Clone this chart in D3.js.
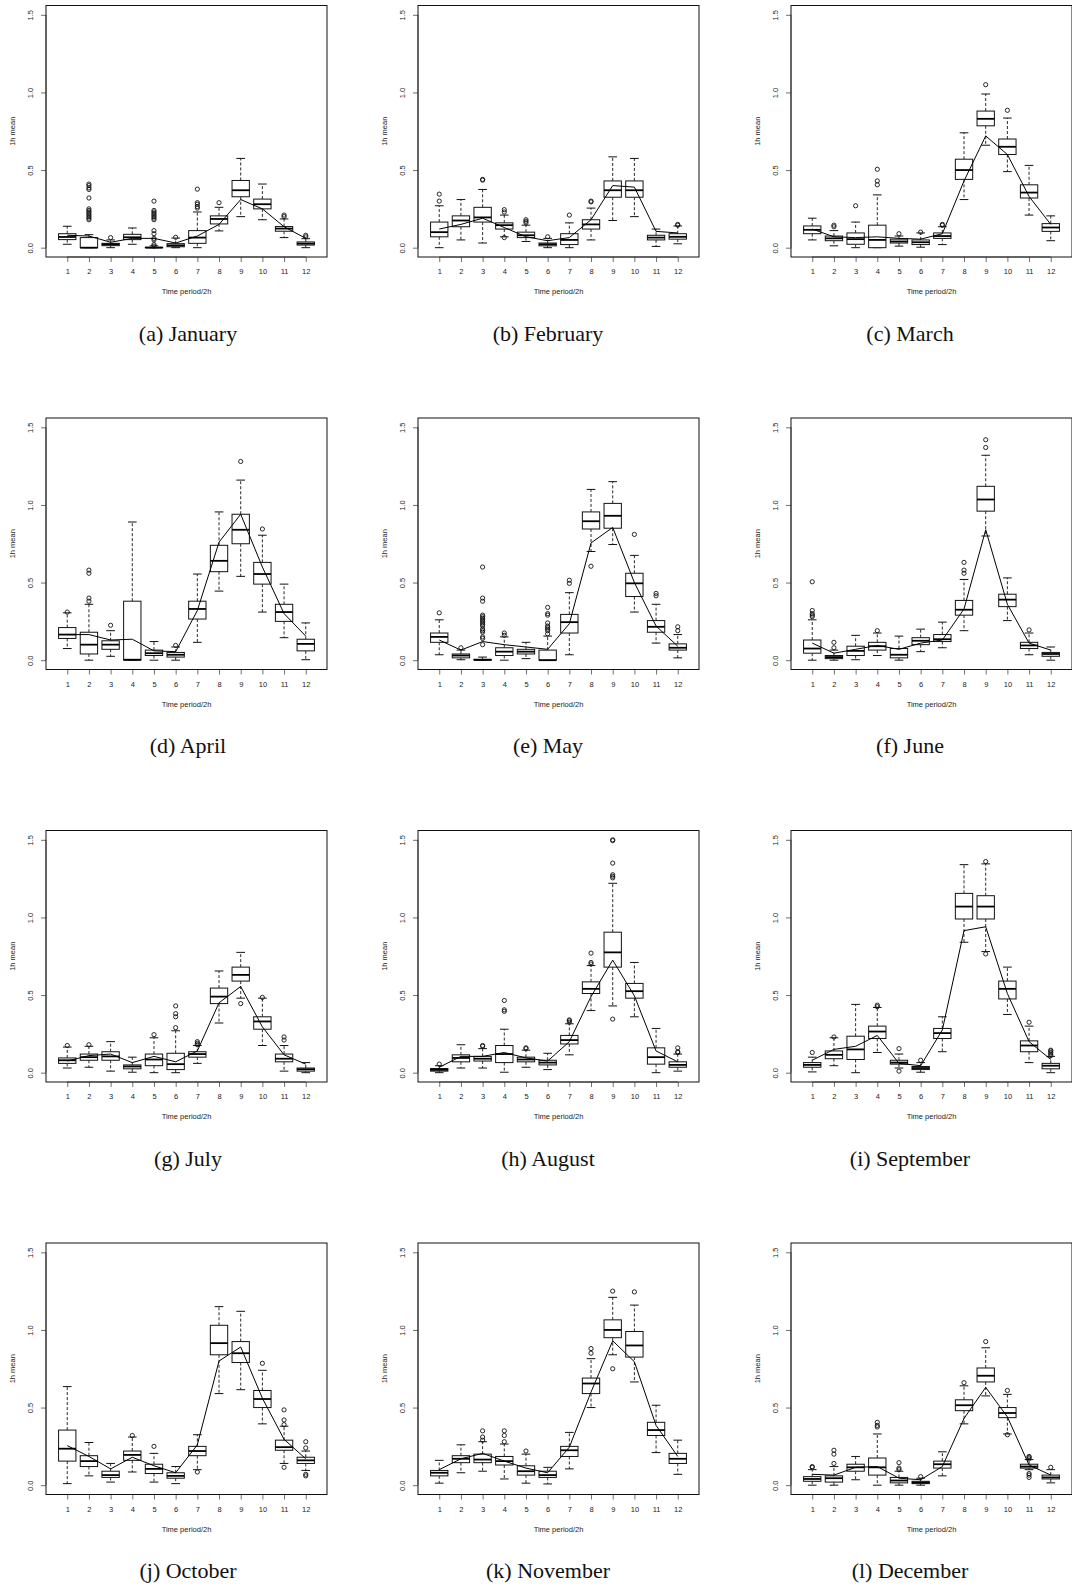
<!DOCTYPE html>
<html>
<head>
<meta charset="utf-8">
<script src="https://cdn.jsdelivr.net/npm/d3@7/dist/d3.min.js"></script>
<style>
  body { margin: 0; background: #fff; }
  svg { display: block; }
  .tick-label { font-family: "Liberation Sans", Arial, sans-serif; font-size: 7.5px; fill: #222; }
  .caption { font-family: "Liberation Serif", "Times New Roman", serif; font-size: 22px; fill: #111; }
</style>
</head>
<body>
<svg id="fig" width="1072" height="1592"></svg>
<script>
// ---- data -------------------------------------------------------------
const periods = [1, 2, 3, 4, 5, 6, 7, 8, 9, 10, 11, 12];
const yTicks = [0, 0.5, 1.0, 1.5];
const panelLetters = ["a", "b", "c", "d", "e", "f", "g", "h", "i", "j", "k", "l"];
const monthNames = ["January", "February", "March", "April", "May", "June",
                    "July", "August", "September", "October", "November", "December"];

// per period: [lower whisker, Q1, median, Q3, upper whisker]
const janBoxes = [[0.022,0.052,0.069,0.09,0.138],[0,0,0,0.065,0.084],[0,0.013,0.022,0.028,0.05],[0.022,0.052,0.067,0.086,0.127],
  [0,0,0,0.003,0.012],[0,0.006,0.015,0.026,0.062],[0,0.028,0.065,0.11,0.23],[0.108,0.153,0.185,0.205,0.26],
  [0.2,0.328,0.37,0.433,0.575],[0.18,0.25,0.28,0.313,0.41],[0.065,0.106,0.123,0.136,0.185],[0,0.017,0.026,0.037,0.058]];
const janOutliers = [[],[0.18,0.19,0.2,0.21,0.22,0.23,0.24,0.25,0.32,0.375,0.385,0.4,0.41],[0.065],[],
  [0.01,0.02,0.05,0.06,0.09,0.11,0.18,0.19,0.2,0.21,0.22,0.23,0.24,0.3],[0.067],[0.255,0.265,0.28,0.29,0.377],[0.29],
  [],[],[0.2,0.21],[0.07,0.08]];
const janLine = [0.08,0.075,0.035,0.06,0.06,0.03,0.075,0.15,0.31,0.25,0.135,0.06];

const febBoxes = [[0,0.07,0.1,0.165,0.27],[0.05,0.135,0.175,0.205,0.31],[0.03,0.165,0.195,0.26,0.375],[0.07,0.12,0.145,0.16,0.21],
  [0.04,0.065,0.08,0.1,0.145],[0,0.012,0.022,0.03,0.06],[0,0.02,0.05,0.09,0.16],[0.05,0.12,0.15,0.18,0.255],
  [0.175,0.325,0.37,0.43,0.585],[0.2,0.325,0.37,0.43,0.575],[0.008,0.05,0.065,0.08,0.12],[0.025,0.055,0.07,0.09,0.14]];
const febOutliers = [[0.3,0.345],[],[0.435,0.44],[0.065,0.23,0.245],[0.16,0.17,0.18],[0.07],[0.21],[0.295,0.3],[],[],[],[0.145,0.15]];
const febLine = [0.12,0.15,0.19,0.13,0.07,0.045,0.065,0.18,0.4,0.39,0.105,0.095];

const marBoxes = [[0.05,0.09,0.115,0.14,0.19],[0.012,0.045,0.06,0.075,0.11],[0,0.022,0.055,0.095,0.165],[0,0,0.05,0.145,0.34],
  [0.01,0.03,0.04,0.055,0.075],[0.003,0.02,0.035,0.05,0.095],[0.02,0.06,0.075,0.095,0.135],[0.31,0.44,0.5,0.57,0.74],
  [0.66,0.785,0.83,0.88,0.99],[0.49,0.6,0.65,0.7,0.835],[0.21,0.32,0.355,0.405,0.53],[0.045,0.105,0.13,0.155,0.205]];
const marOutliers = [[],[0.135,0.145],[0.27],[0.405,0.43,0.505],[0.09],[0.1],[0.145,0.15],[],[1.05],[0.885],[],[]];
const marLine = [0.12,0.07,0.065,0.07,0.06,0.055,0.09,0.43,0.72,0.6,0.33,0.15];

const aprBoxes = [[0.075,0.14,0.165,0.21,0.305],[0,0.04,0.1,0.18,0.36],[0.025,0.07,0.1,0.125,0.19],[0,0,0.003,0.38,0.89],
  [0,0.03,0.045,0.065,0.12],[0,0.02,0.035,0.05,0.085],[0.115,0.265,0.33,0.38,0.555],[0.445,0.57,0.64,0.74,0.955],
  [0.54,0.75,0.84,0.94,1.16],[0.31,0.49,0.555,0.63,0.805],[0.145,0.25,0.31,0.36,0.49],[0.003,0.06,0.105,0.135,0.24]];
const aprOutliers = [[0.31],[0.38,0.4,0.56,0.58],[0.225],[],[],[0.095],[],[],[1.28],[0.845],[],[]];
const aprLine = [0.165,0.165,0.13,0.135,0.06,0.055,0.32,0.76,0.94,0.6,0.3,0.155];

const mayBoxes = [[0.035,0.115,0.15,0.175,0.26],[0.003,0.015,0.03,0.04,0.065],[0,0,0.002,0.006,0.02],[0,0.03,0.055,0.08,0.15],
  [0.01,0.04,0.055,0.07,0.115],[0,0,0,0.065,0.155],[0.035,0.175,0.245,0.295,0.435],[0.7,0.845,0.895,0.955,1.1],
  [0.745,0.85,0.93,1.01,1.15],[0.31,0.41,0.495,0.56,0.675],[0.11,0.18,0.215,0.255,0.36],[0.015,0.065,0.08,0.105,0.165]];
const mayOutliers = [[0.305],[0.08],[0.1,0.14,0.15,0.18,0.19,0.2,0.22,0.23,0.24,0.25,0.26,0.27,0.28,0.29,0.38,0.4,0.6],[0.16,0.175],
  [],[0.17,0.19,0.2,0.21,0.22,0.24,0.29,0.3,0.34],[0.495,0.515],[0.605],[],[0.81],[0.415,0.43],[0.19,0.215]];
const mayLine = [0.13,0.065,0.12,0.1,0.085,0.07,0.235,0.755,0.855,0.5,0.22,0.09];

const junBoxes = [[0,0.045,0.075,0.13,0.26],[0,0.01,0.02,0.03,0.065],[0.003,0.03,0.06,0.09,0.16],[0.03,0.065,0.09,0.115,0.175],
  [0,0.015,0.035,0.075,0.155],[0.055,0.1,0.125,0.145,0.2],[0.08,0.12,0.135,0.165,0.245],[0.19,0.29,0.325,0.385,0.52],
  [0.8,0.96,1.035,1.12,1.32],[0.255,0.345,0.39,0.425,0.53],[0.035,0.075,0.095,0.115,0.175],[0,0.025,0.04,0.05,0.085]];
const junOutliers = [[0.28,0.29,0.3,0.32,0.505],[0.08,0.115],[],[0.19],[],[],[],[0.56,0.58,0.63],[1.37,1.42],[],[0.195],[]];
const junLine = [0.11,0.045,0.07,0.095,0.07,0.11,0.13,0.33,0.84,0.36,0.11,0.065];

const julBoxes = [[0.03,0.06,0.08,0.095,0.165],[0.035,0.08,0.1,0.12,0.17],[0.01,0.08,0.105,0.135,0.2],[0.003,0.025,0.04,0.05,0.1],
  [0,0.045,0.085,0.12,0.225],[0,0.02,0.055,0.125,0.27],[0.06,0.1,0.12,0.135,0.175],[0.32,0.445,0.49,0.545,0.655],
  [0.48,0.59,0.63,0.68,0.775],[0.175,0.28,0.33,0.36,0.48],[0.01,0.07,0.09,0.12,0.175],[0,0.01,0.022,0.03,0.065]];
const julOutliers = [[0.175],[0.18],[],[],[0.245],[0.29,0.36,0.38,0.43],[0.18,0.19,0.2],[],[0.445],[0.485],[0.21,0.23],[]];
const julLine = [0.075,0.11,0.12,0.065,0.105,0.07,0.14,0.45,0.555,0.295,0.115,0.055];

const augBoxes = [[0,0.01,0.018,0.027,0.045],[0.03,0.07,0.095,0.115,0.18],[0.03,0.075,0.09,0.105,0.155],[0.003,0.065,0.12,0.175,0.28],
  [0.035,0.07,0.085,0.1,0.145],[0.02,0.05,0.065,0.08,0.125],[0.115,0.185,0.21,0.24,0.315],[0.4,0.51,0.54,0.585,0.69],
  [0.43,0.68,0.775,0.905,1.22],[0.36,0.48,0.525,0.575,0.71],[0,0.055,0.1,0.16,0.285],[0.01,0.035,0.05,0.07,0.12]];
const augOutliers = [[0.055],[],[0.17,0.175],[0.395,0.405,0.465],[0.155,0.16],[],[0.325,0.335,0.34],[0.7,0.71,0.77],
  [0.345,1.255,1.265,1.275,1.35,1.495,1.5],[],[],[0.13,0.135,0.16]];
const augLine = [0.035,0.105,0.105,0.13,0.095,0.075,0.2,0.49,0.725,0.495,0.14,0.07];

const sepBoxes = [[0.005,0.035,0.05,0.065,0.1],[0.045,0.09,0.115,0.14,0.225],[0,0.085,0.15,0.235,0.44],[0.13,0.22,0.265,0.3,0.42],
  [0.03,0.055,0.065,0.08,0.12],[0.003,0.02,0.03,0.04,0.065],[0.135,0.22,0.255,0.285,0.36],[0.84,0.99,1.07,1.155,1.34],
  [0.78,0.99,1.07,1.14,1.345],[0.375,0.475,0.54,0.59,0.68],[0.065,0.135,0.175,0.205,0.3],[0,0.025,0.045,0.06,0.105]];
const sepOutliers = [[0.13],[0.23],[],[0.425,0.435],[0.01,0.155],[0.08],[],[],[0.765,1.36],[],[0.325],[0.11,0.12,0.13,0.14,0.145]];
const sepLine = [0.08,0.15,0.17,0.24,0.06,0.045,0.275,0.915,0.94,0.51,0.2,0.085];

const octBoxes = [[0.01,0.155,0.235,0.355,0.635],[0.06,0.12,0.155,0.19,0.275],[0.02,0.05,0.065,0.09,0.14],[0.085,0.16,0.195,0.22,0.31],
  [0.02,0.075,0.105,0.135,0.205],[0.01,0.045,0.06,0.08,0.12],[0.1,0.19,0.22,0.25,0.325],[0.59,0.84,0.915,1.03,1.15],
  [0.615,0.79,0.85,0.925,1.12],[0.395,0.5,0.555,0.61,0.74],[0.14,0.225,0.245,0.29,0.38],[0.095,0.14,0.16,0.18,0.22]];
const octOutliers = [[],[],[],[0.32],[0.25],[],[0.085],[],[],[0.785],[0.115,0.39,0.42,0.485],[0.06,0.07,0.24,0.28]];
const octLine = [0.255,0.185,0.105,0.18,0.125,0.08,0.26,0.8,0.89,0.56,0.295,0.17];

const novBoxes = [[0.013,0.06,0.08,0.095,0.16],[0.08,0.145,0.17,0.19,0.26],[0.09,0.145,0.165,0.2,0.28],[0.04,0.13,0.155,0.185,0.265],
  [0.013,0.065,0.09,0.125,0.2],[0.008,0.05,0.065,0.09,0.115],[0.105,0.185,0.225,0.25,0.34],[0.5,0.59,0.655,0.69,0.815],
  [0.84,0.95,1,1.065,1.21],[0.665,0.825,0.9,0.99,1.16],[0.21,0.32,0.355,0.405,0.515],[0.07,0.14,0.17,0.205,0.29]];
const novOutliers = [[],[],[0.29,0.31,0.35],[0.28,0.32,0.35],[0.22],[],[],[0.85,0.88],[0.75,1.25],[1.245],[],[]];
const novLine = [0.1,0.17,0.205,0.155,0.11,0.08,0.245,0.6,0.93,0.795,0.385,0.185];

const decBoxes = [[0,0.025,0.04,0.055,0.1],[0,0.02,0.045,0.06,0.12],[0.035,0.09,0.115,0.135,0.185],[0,0.065,0.115,0.175,0.33],
  [0,0.015,0.03,0.05,0.09],[0,0.01,0.017,0.025,0.045],[0.06,0.11,0.135,0.155,0.215],[0.395,0.48,0.515,0.55,0.64],
  [0.575,0.665,0.705,0.755,0.885],[0.33,0.435,0.465,0.5,0.585],[0.1,0.11,0.12,0.135,0.165],[0.015,0.04,0.05,0.065,0.1]];
const decOutliers = [[0.115,0.12],[0.14,0.2,0.225],[],[0.375,0.385,0.405],[0.1,0.11,0.145],[0.055],[],[0.66],[0.925],
  [0.325,0.61],[0.05,0.065,0.075,0.17,0.18,0.185],[0.115]];
const decLine = [0.07,0.065,0.115,0.12,0.045,0.035,0.12,0.43,0.63,0.44,0.13,0.065];

const monthBoxes = [janBoxes, febBoxes, marBoxes, aprBoxes, mayBoxes, junBoxes,
                    julBoxes, augBoxes, sepBoxes, octBoxes, novBoxes, decBoxes];
const monthOutliers = [janOutliers, febOutliers, marOutliers, aprOutliers, mayOutliers, junOutliers,
                       julOutliers, augOutliers, sepOutliers, octOutliers, novOutliers, decOutliers];
const monthLines = [janLine, febLine, marLine, aprLine, mayLine, junLine,
                    julLine, augLine, sepLine, octLine, novLine, decLine];

// ---- layout -----------------------------------------------------------
const colLeft = [46, 418, 791];
const colCaptionX = [188, 548, 910];
const rowTop = [5.5, 418, 830.5, 1243];
const plotW = 281, plotH = 251.5;

const svg = d3.select("#fig");

function drawPanel(i) {
  const col = i % 3, row = Math.floor(i / 3);
  const left = colLeft[col], top = rowTop[row];
  const boxes = monthBoxes[i], outliers = monthOutliers[i], line = monthLines[i];

  const x = d3.scaleLinear().domain([0.02, 12.98]).range([0, plotW]);
  const y = d3.scaleLinear().domain([-0.06, 1.56]).range([plotH, 0]);
  const step = x(2) - x(1);
  const halfBox = step * 0.4, halfCap = step * 0.2;

  const g = svg.append("g").attr("transform", `translate(${left},${top})`);

  // axes
  const xAxis = d3.axisBottom(x).tickValues(periods).tickSize(5).tickPadding(7).tickFormat(d3.format("d"));
  const gx = g.append("g").attr("transform", `translate(0,${plotH})`).call(xAxis);
  gx.select(".domain").attr("d", `M${x(1)},0H${x(12)}`).attr("stroke", "#333").attr("stroke-width", 0.7);
  gx.selectAll(".tick line").attr("stroke", "#333").attr("stroke-width", 0.7);
  gx.selectAll(".tick text").attr("class", "tick-label").attr("fill", "#222").attr("font-size", null).attr("font-family", null);

  const yAxis = d3.axisLeft(y).tickValues(yTicks).tickSize(5).tickFormat(d3.format(".1f"));
  const gy = g.append("g").call(yAxis);
  gy.select(".domain").attr("d", `M0,${y(0)}V${y(1.5)}`).attr("stroke", "#333").attr("stroke-width", 0.7);
  gy.selectAll(".tick line").attr("stroke", "#333").attr("stroke-width", 0.7);
  gy.selectAll(".tick text")
    .attr("class", "tick-label").attr("fill", "#222").attr("font-size", null).attr("font-family", null)
    .attr("x", null).attr("dy", null)
    .attr("text-anchor", "middle")
    .attr("transform", "translate(-13,0) rotate(-90)");

  // axis titles
  g.append("text").attr("class", "tick-label")
    .attr("x", plotW / 2).attr("y", plotH + 37).attr("text-anchor", "middle")
    .text("Time period/2h");
  g.append("text").attr("class", "tick-label")
    .attr("text-anchor", "middle")
    .attr("transform", `translate(-31.5,${y(0.75)}) rotate(-90)`)
    .text("1h mean");

  // boxes
  const bg = g.selectAll("g.box").data(boxes).join("g").attr("class", "box")
    .attr("transform", (d, k) => `translate(${x(periods[k])},0)`);
  bg.append("line").attr("x1", 0).attr("x2", 0)
    .attr("y1", d => y(d[3])).attr("y2", d => y(d[4]))
    .attr("stroke", "#111").attr("stroke-width", 0.9).attr("stroke-dasharray", "3,2");
  bg.append("line").attr("x1", 0).attr("x2", 0)
    .attr("y1", d => y(d[1])).attr("y2", d => y(d[0]))
    .attr("stroke", "#111").attr("stroke-width", 0.9).attr("stroke-dasharray", "3,2");
  bg.append("line").attr("x1", -halfCap).attr("x2", halfCap)
    .attr("y1", d => y(d[4])).attr("y2", d => y(d[4]))
    .attr("stroke", "#111").attr("stroke-width", 1);
  bg.append("line").attr("x1", -halfCap).attr("x2", halfCap)
    .attr("y1", d => y(d[0])).attr("y2", d => y(d[0]))
    .attr("stroke", "#111").attr("stroke-width", 1);
  bg.append("rect").attr("x", -halfBox).attr("width", halfBox * 2)
    .attr("y", d => y(d[3])).attr("height", d => Math.max(0.01, y(d[1]) - y(d[3])))
    .attr("fill", "#fff").attr("stroke", "#111").attr("stroke-width", 1);
  bg.append("line").attr("x1", -halfBox).attr("x2", halfBox)
    .attr("y1", d => y(d[2])).attr("y2", d => y(d[2]))
    .attr("stroke", "#000").attr("stroke-width", 1.8);

  // outliers
  bg.each(function (d, k) {
    d3.select(this).selectAll("circle").data(outliers[k]).join("circle")
      .attr("cx", 0).attr("cy", v => y(v)).attr("r", 2.1)
      .attr("fill", "none").attr("stroke", "#111").attr("stroke-width", 0.9);
  });

  // overlaid profile line
  const path = d3.line().x((v, k) => x(periods[k])).y(v => y(v));
  g.append("path").attr("d", path(line))
    .attr("fill", "none").attr("stroke", "#000").attr("stroke-width", 1);

  // frame
  g.append("rect").attr("x", 0).attr("y", 0).attr("width", plotW).attr("height", plotH)
    .attr("fill", "none").attr("stroke", "#111").attr("stroke-width", 1);

  // caption
  svg.append("text").attr("class", "caption")
    .attr("x", colCaptionX[col]).attr("y", top + y(0) + 93)
    .attr("text-anchor", "middle")
    .text(`(${panelLetters[i]})  ${monthNames[i]}`);
}

d3.range(12).forEach(drawPanel);
</script>
</body>
</html>
